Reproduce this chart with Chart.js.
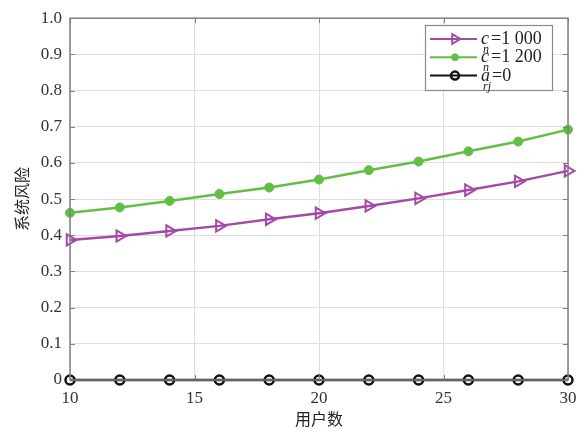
<!DOCTYPE html>
<html>
<head>
<meta charset="utf-8">
<script src="https://cdn.jsdelivr.net/npm/chart.js@4/dist/chart.umd.min.js"></script>
<style>
  html, body { margin: 0; padding: 0; background: #fff; }
  #wrap { position: relative; width: 587px; height: 431px; }
</style>
</head>
<body>
<div id="wrap"><canvas id="c" width="587" height="431"></canvas></div>
<script>
// Number of users (x axis)
const users = [10, 12, 14, 16, 18, 20, 22, 24, 26, 28, 30];
// System risk for each setting
const riskCn1000 = [0.387, 0.398, 0.412, 0.426, 0.444, 0.461, 0.481, 0.502, 0.525, 0.549, 0.578];
const riskCn1200 = [0.462, 0.477, 0.495, 0.514, 0.532, 0.554, 0.580, 0.604, 0.632, 0.659, 0.692];
const riskArj0   = [0, 0, 0, 0, 0, 0, 0, 0, 0, 0, 0];
// Axis ticks
const xTicks = [10, 15, 20, 25, 30];
const yTicks = [0, 0.1, 0.2, 0.3, 0.4, 0.5, 0.6, 0.7, 0.8, 0.9, 1.0];

const PURPLE = '#a449a6';
const GREEN = '#62bf45';
const BLACK = '#111111';
const FRAME = '#808080';
const SERIF = '"Liberation Serif", "Times New Roman", serif';

const toPoints = ys => users.map((u, i) => ({ x: u, y: ys[i] }));

// Box around the plot area with short inward tick marks (MATLAB style)
const framePlugin = {
  id: 'frame',
  afterDatasetsDraw(chart) {
    const { ctx, chartArea: a, scales: { x, y } } = chart;
    ctx.save();
    ctx.strokeStyle = FRAME;
    ctx.lineWidth = 1;
    xTicks.forEach(v => {
      const px = Math.round(x.getPixelForValue(v)) + 0.5;
      ctx.beginPath();
      ctx.moveTo(px, a.bottom); ctx.lineTo(px, a.bottom - 5);
      ctx.moveTo(px, a.top); ctx.lineTo(px, a.top + 5);
      ctx.stroke();
    });
    yTicks.forEach(v => {
      const py = Math.round(y.getPixelForValue(v)) + 0.5;
      ctx.beginPath();
      ctx.moveTo(a.left, py); ctx.lineTo(a.left + 5, py);
      ctx.moveTo(a.right, py); ctx.lineTo(a.right - 5, py);
      ctx.stroke();
    });
    ctx.lineWidth = 1.5;
    ctx.strokeRect(a.left, a.top, a.right - a.left, a.bottom - a.top);
    ctx.restore();
  }
};

// Legend box with subscripted labels, drawn from the dataset styles
const legendPlugin = {
  id: 'mathLegend',
  afterDraw(chart) {
    const { ctx } = chart;
    const box = { x: 425, y: 25, w: 127, h: 65 };
    ctx.save();
    ctx.fillStyle = '#fff';
    ctx.fillRect(box.x, box.y, box.w, box.h);
    ctx.strokeStyle = '#8a8a8a';
    ctx.lineWidth = 1.2;
    ctx.strokeRect(box.x + 0.5, box.y + 0.5, box.w, box.h);
    const entries = [
      { ds: 0, sym: 'c', sub: 'n', rest: '=1 000', r: 5.5 },
      { ds: 1, sym: 'c', sub: 'n', rest: '=1 200', r: 3.5 },
      { ds: 2, sym: 'a', sub: 'rj', rest: '=0', r: 4 }
    ];
    entries.forEach((e, i) => {
      const ds = chart.data.datasets[e.ds];
      const cy = 39 + i * 18.3;
      ctx.strokeStyle = ds.borderColor;
      ctx.lineWidth = 2;
      ctx.beginPath();
      ctx.moveTo(430, cy); ctx.lineTo(477, cy);
      ctx.stroke();
      ctx.fillStyle = ds.pointBackgroundColor;
      ctx.strokeStyle = ds.pointBorderColor;
      ctx.lineWidth = ds.pointBorderWidth;
      Chart.helpers.drawPoint(ctx, {
        pointStyle: ds.pointStyle,
        rotation: ds.pointRotation || 0,
        radius: e.r,
        borderWidth: ds.pointBorderWidth
      }, 455, cy);
      ctx.fillStyle = '#222';
      ctx.textBaseline = 'alphabetic';
      ctx.textAlign = 'left';
      ctx.font = 'italic 18px ' + SERIF;
      const base = cy + 5;
      ctx.fillText(e.sym, 481, base);
      const symW = ctx.measureText(e.sym).width;
      ctx.font = 'italic 12px ' + SERIF;
      ctx.fillText(e.sub, 483, base + 9);
      ctx.font = '18px ' + SERIF;
      ctx.fillText(e.rest, 481 + symW + 2, base);
    });
    ctx.restore();
  }
};

new Chart(document.getElementById('c'), {
  type: 'line',
  data: {
    datasets: [
      {
        label: 'c_n=1 000',
        data: toPoints(riskCn1000),
        borderColor: PURPLE,
        borderWidth: 2.5,
        pointStyle: 'triangle',
        pointRotation: 90,
        pointRadius: 6.5,
        pointBorderWidth: 2,
        pointBackgroundColor: 'rgba(255,255,255,0)',
        pointBorderColor: PURPLE,
        clip: false
      },
      {
        label: 'c_n=1 200',
        data: toPoints(riskCn1200),
        borderColor: GREEN,
        borderWidth: 2.5,
        pointStyle: 'circle',
        pointRadius: 4.5,
        pointBorderWidth: 1,
        pointBackgroundColor: GREEN,
        pointBorderColor: GREEN,
        clip: false
      },
      {
        label: 'a_rj=0',
        data: toPoints(riskArj0),
        borderColor: BLACK,
        borderWidth: 2.5,
        pointStyle: 'circle',
        pointRadius: 4.5,
        pointBorderWidth: 2.5,
        pointBackgroundColor: 'rgba(255,255,255,0)',
        pointBorderColor: BLACK,
        clip: false
      }
    ]
  },
  options: {
    responsive: false,
    animation: false,
    layout: { padding: { left: 0, right: 19, top: 16, bottom: 0 } },
    plugins: { legend: { display: false }, tooltip: { enabled: false } },
    elements: { line: { tension: 0 } },
    scales: {
      x: {
        type: 'linear',
        min: 10, max: 30,
        afterFit(s) { s.height = 51; },
        afterBuildTicks(s) { s.ticks = xTicks.map(v => ({ value: v })); },
        grid: { color: '#dedede', lineWidth: 1, drawTicks: false },
        border: { display: false },
        ticks: {
          padding: 8,
          color: '#333',
          font: { family: SERIF, size: 17 },
          callback: v => String(v)
        },
        title: {
          display: true,
          text: '用户数',
          color: '#222',
          font: { family: '"Noto Sans CJK SC", sans-serif', size: 16 },
          padding: { top: 0, bottom: 2 }
        }
      },
      y: {
        type: 'linear',
        min: 0, max: 1,
        afterFit(s) { s.width = 70; },
        afterBuildTicks(s) { s.ticks = yTicks.map(v => ({ value: v })); },
        grid: { color: '#dedede', lineWidth: 1, drawTicks: false },
        border: { display: false },
        ticks: {
          padding: 8,
          color: '#333',
          font: { family: SERIF, size: 17 },
          callback: v => (v === 0 ? '0' : v.toFixed(1))
        },
        title: {
          display: true,
          text: '系统风险',
          color: '#222',
          font: { family: '"Noto Sans CJK SC", sans-serif', size: 16 },
          padding: { top: 12, bottom: 0 }
        }
      }
    }
  },
  plugins: [framePlugin, legendPlugin]
});
</script>
</body>
</html>
